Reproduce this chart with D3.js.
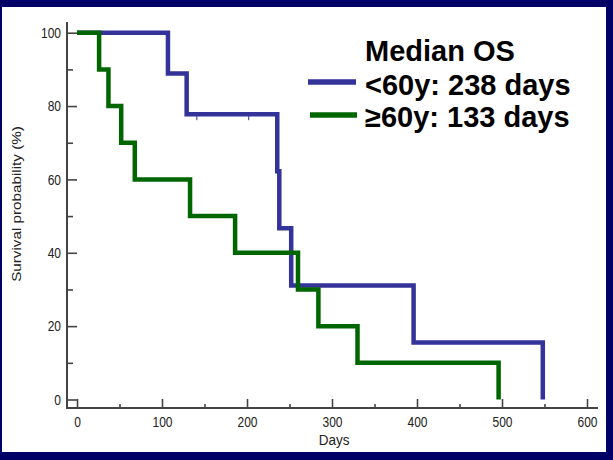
<!DOCTYPE html>
<html><head><meta charset="utf-8">
<script src="https://cdn.jsdelivr.net/npm/d3@7"></script>
<style>html,body{margin:0;padding:0;background:#000066;}svg{display:block;}</style>
</head><body>
<script>
// ---- data ----
const seriesNames = ["<60y: 238 days", "\u226560y: 133 days"];
const legendTitle = "Median OS";
const youngDays = [0, 107, 129, 235.6, 238, 252, 396, 548];
const youngSurv = [100, 88.89, 77.78, 62.22, 46.67, 31.11, 15.56, 0];
const youngCensorDays = [141, 202];
const youngCensorSurv = [77.78, 77.78];
const oldDays = [0, 26, 37, 52, 68, 133, 186, 260, 284, 330, 496];
const oldSurv = [100, 90, 80, 70, 60, 50, 40, 30, 20, 10, 0];
const xMajorTicks = [0, 100, 200, 300, 400, 500, 600];
const xMinorTicks = [50, 150, 250, 350, 450, 550];
const yMajorTicks = [0, 20, 40, 60, 80, 100];
const yMinorTicks = [10, 30, 50, 70, 90];
const xTitle = "Days";
const yTitle = "Survival probability (%)";

// ---- layout ----
const W = 613, H = 460;
const svg = d3.select("body").append("svg").attr("width", W).attr("height", H);
svg.append("rect").attr("width", W).attr("height", H).attr("fill", "#000066");
svg.append("rect").attr("x", 2).attr("y", 7).attr("width", 604).attr("height", 445).attr("fill", "#ffffff");

const x = d3.scaleLinear().domain([0, 600]).range([77, 587]);
const y = d3.scaleLinear().domain([0, 100]).range([399.5, 32.7]);
const axisX = 67, axisY = 408;
const axisColor = "#444444";
const font = "'Liberation Sans', Arial, sans-serif";
const stretch = 1.25;

// axes lines
svg.append("line").attr("x1", axisX).attr("x2", axisX).attr("y1", 22).attr("y2", axisY + 1)
  .attr("stroke", axisColor).attr("stroke-width", 2);
svg.append("line").attr("x1", axisX - 1).attr("x2", 598).attr("y1", axisY).attr("y2", axisY)
  .attr("stroke", axisColor).attr("stroke-width", 2);

// x axis
const gx = svg.append("g").attr("transform", `translate(0,${axisY})`);
gx.call(d3.axisBottom(x).tickValues(xMajorTicks).tickSize(-9).tickPadding(8.5).tickFormat(d3.format("d")));
const gxm = svg.append("g").attr("transform", `translate(0,${axisY})`);
gxm.call(d3.axisBottom(x).tickValues(xMinorTicks).tickSize(-4).tickFormat(""));
// y axis
const gy = svg.append("g").attr("transform", `translate(${axisX},0)`);
gy.call(d3.axisLeft(y).tickValues(yMajorTicks).tickSize(-10).tickPadding(6).tickFormat(d3.format("d")));
const gym = svg.append("g").attr("transform", `translate(${axisX},0)`);
gym.call(d3.axisLeft(y).tickValues(yMinorTicks).tickSize(-6).tickFormat(""));

[gx, gxm, gy, gym].forEach(g => {
  g.select(".domain").remove();
  g.selectAll(".tick line").attr("stroke", axisColor).attr("stroke-width", 1.6);
  g.selectAll(".tick text").attr("fill", "#222").style("font-family", font).style("font-size", "12px");
});
// vertical stretch of tick labels (as in the reference)
gx.selectAll(".tick text").each(function () {
  const t = d3.select(this); const yy = +t.attr("y");
  t.attr("y", 0).attr("transform", `translate(0,${yy}) scale(1,${stretch})`);
});
gy.selectAll(".tick text").attr("transform", `scale(1,${stretch})`);

// titles
svg.append("text").attr("transform", `translate(334,445) scale(1,1.1)`).attr("text-anchor", "middle")
  .style("font-family", font).style("font-size", "13.5px").attr("fill", "#222").text(xTitle);
svg.append("text").attr("transform", `translate(21,204) rotate(-90) scale(1.27,1)`).attr("text-anchor", "middle")
  .style("font-family", font).style("font-size", "12px").attr("fill", "#222").text(yTitle);

// curves
const line = d3.line().curve(d3.curveStepAfter).x(d => x(d[0])).y(d => y(d[1]));
const blue = "#333399", green = "#006600";
const youngPts = youngDays.map((d, i) => [d, youngSurv[i]]);
const oldPts = oldDays.map((d, i) => [d, oldSurv[i]]);
svg.append("path").attr("d", line(youngPts)).attr("fill", "none").attr("stroke", blue)
  .attr("stroke-width", 4.5).attr("stroke-linejoin", "miter");
svg.selectAll(".cens").data(youngCensorDays).enter().append("line")
  .attr("x1", d => x(d)).attr("x2", d => x(d))
  .attr("y1", (d, i) => y(youngCensorSurv[i])).attr("y2", (d, i) => y(youngCensorSurv[i]) + 6)
  .attr("stroke", blue).attr("stroke-width", 1);
svg.append("path").attr("d", line(oldPts)).attr("fill", "none").attr("stroke", green)
  .attr("stroke-width", 4.5).attr("stroke-linejoin", "miter");

// legend
const lg = svg.append("g").style("font-family", font).style("font-weight", "bold").style("font-size", "29px");
lg.append("text").attr("x", 365).attr("y", 61).attr("fill", "#000").text(legendTitle);
lg.append("line").attr("x1", 308).attr("x2", 356).attr("y1", 82).attr("y2", 82).attr("stroke", blue).attr("stroke-width", 5.5);
lg.append("text").attr("x", 365).attr("y", 95).attr("fill", "#000").text(seriesNames[0]);
lg.append("line").attr("x1", 310).attr("x2", 357).attr("y1", 115).attr("y2", 115).attr("stroke", green).attr("stroke-width", 5.5);
lg.append("text").attr("x", 365).attr("y", 127).attr("fill", "#000").text(seriesNames[1]);
</script>
</body></html>
